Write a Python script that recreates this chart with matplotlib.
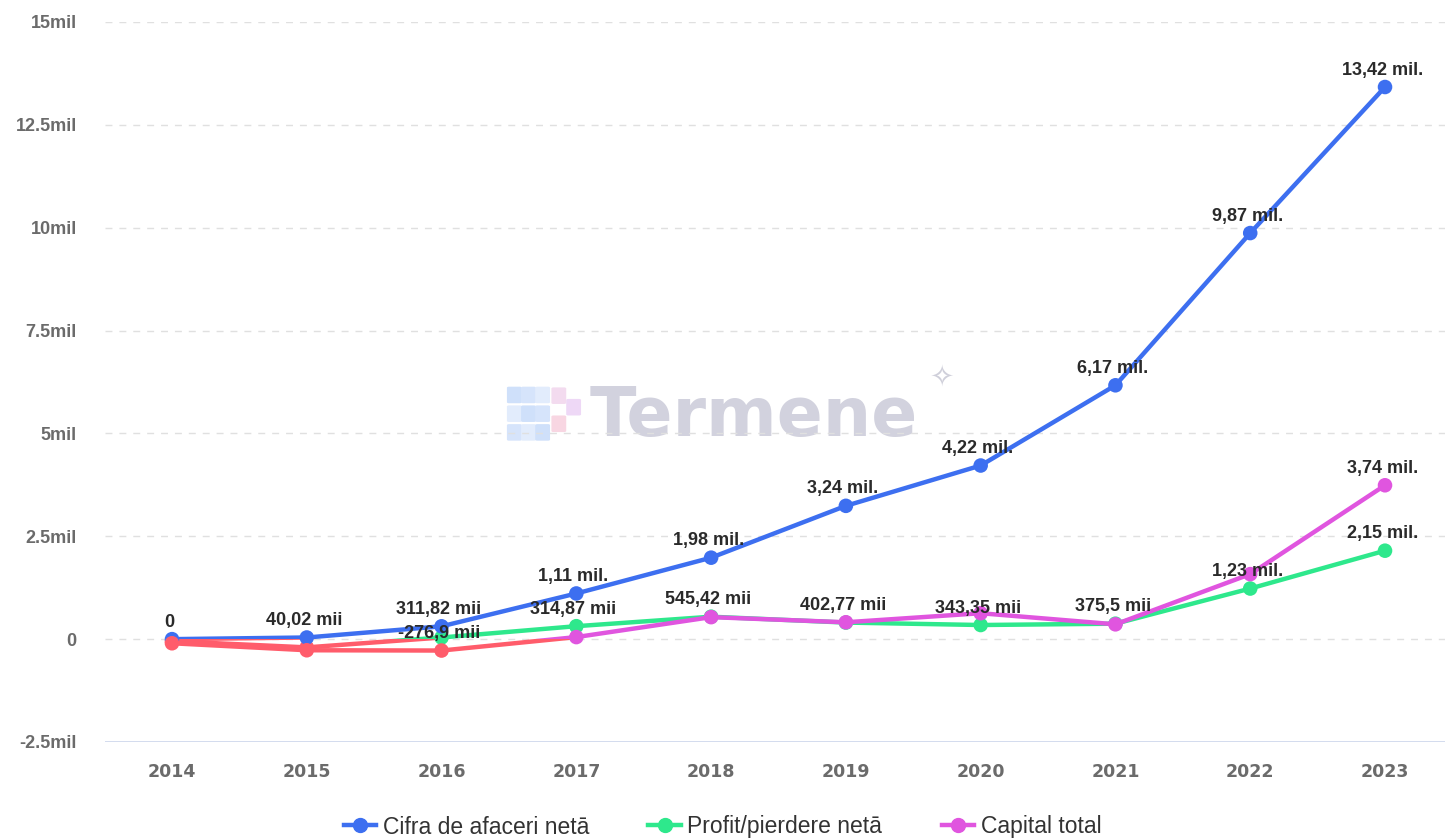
import matplotlib
matplotlib.use("Agg")
import matplotlib.pyplot as plt
from matplotlib.patches import Rectangle, FancyBboxPatch
from matplotlib.lines import Line2D

plt.rcParams['font.family'] = ['Liberation Sans', 'DejaVu Sans']

# data (values in millions)
years = ['2014', '2015', '2016', '2017', '2018', '2019', '2020', '2021', '2022', '2023']
cifra = [0, 0.04002, 0.31182, 1.11, 1.98, 3.24, 4.22, 6.17, 9.87, 13.42]
profit = [-0.05, -0.20, 0.04, 0.31487, 0.54542, 0.40277, 0.34335, 0.3755, 1.23, 2.15]
capital = [-0.10, -0.27, -0.2769, 0.05, 0.535, 0.41, 0.63, 0.36, 1.58, 3.74]

cifra_labels = ['0', '40,02 mii', '311,82 mii', '1,11 mil.', '1,98 mil.', '3,24 mil.',
                '4,22 mil.', '6,17 mil.', '9,87 mil.', '13,42 mil.']
profit_labels = [None, None, None, '314,87 mii', '545,42 mii', '402,77 mii',
                 '343,35 mii', '375,5 mii', '1,23 mil.', '2,15 mil.']
capital_labels = [None, None, '-276,9 mii', None, None, None, None, None, None, '3,74 mil.']

series_names = ['Cifra de afaceri netā', 'Profit/pierdere netā', 'Capital total']
colors = ['#3d6ff0', '#2ee88c', '#e055df']
neg_color = '#ff5c6b'

y_ticks = [-2.5, 0, 2.5, 5, 7.5, 10, 12.5, 15]
y_tick_labels = ['-2.5mil', '0', '2.5mil', '5mil', '7.5mil', '10mil', '12.5mil', '15mil']

fig = plt.figure(figsize=(14.45, 8.4), dpi=100)
ax = fig.add_axes([104.6 / 1445, 98 / 840, 1347.8 / 1445, 720 / 840])
ax.set_xlim(-0.5, 9.5)
ax.set_ylim(-2.5, 15)

x = list(range(len(years)))

# watermark
ax.text(0.482, 0.452, 'Termene', transform=ax.transAxes, fontsize=49, fontweight='bold',
        family='DejaVu Sans', color='#d2d2de', ha='center', va='center', zorder=0)
ax.text(0.621, 0.505, '\u2727', transform=ax.transAxes, fontsize=21, family='DejaVu Sans',
        color='#cfcfda', ha='center', va='center', zorder=0)
cube_cols = ['#d6e4fb', '#e2ecfc', '#cfe0fa']
for i in range(3):
    for j in range(3):
        ax.add_patch(FancyBboxPatch((0.300 + i * 0.0105, 0.42 + j * 0.026), 0.008, 0.02,
                                    boxstyle='round,pad=0.0015', transform=ax.transAxes,
                                    color=cube_cols[(i + j) % 3], zorder=0, lw=0))
pink_cols = ['#f8d6e2', '#eed8f6', '#f3dbef']
for k, (px, py) in enumerate([(0.333, 0.432), (0.344, 0.455), (0.333, 0.471)]):
    ax.add_patch(FancyBboxPatch((px, py), 0.008, 0.02, boxstyle='round,pad=0.0015',
                                transform=ax.transAxes, color=pink_cols[k], zorder=0, lw=0))

# grid
for t in y_ticks[1:]:
    ax.axhline(t, color='#e0e0e0', lw=1, ls=(0, (5, 5)), zorder=1)
ax.axhline(-2.5, color='#ccd6eb', lw=1.2, zorder=1)

ax.set_yticks(y_ticks)
ax.set_yticklabels(y_tick_labels, fontsize=13, fontweight='bold', color='#6b6b6b')
ax.set_xticks(x)
ax.set_xticklabels(years, fontsize=12.5, fontweight='bold', color='#6b6b6b',
                   family='DejaVu Sans')
ax.tick_params(axis='both', length=0)
ax.tick_params(axis='y', pad=20)
ax.tick_params(axis='x', pad=15)
for s in ax.spines.values():
    s.set_visible(False)

pos_clip = Rectangle((-1, 0), 12, 20, transform=ax.transData)
neg_clip = Rectangle((-1, -5), 12, 5, transform=ax.transData)

all_series = [cifra, profit, capital]
all_labels = [cifra_labels, profit_labels, capital_labels]
zorders = [4, 3, 5]

for vals, labs, col, z in zip(all_series, all_labels, colors, zorders):
    lp, = ax.plot(x, vals, color=col, lw=3.2, zorder=z, solid_capstyle='round')
    lp.set_clip_path(pos_clip)
    ln, = ax.plot(x, vals, color=neg_color, lw=3.2, zorder=z, solid_capstyle='round')
    ln.set_clip_path(neg_clip)
    mcols = [col if v >= 0 else neg_color for v in vals]
    ax.scatter(x, vals, s=110, c=mcols, zorder=z + 0.5, linewidths=0)
    for xi, v, t in zip(x, vals, labs):
        if t is None:
            continue
        ax.annotate(t, (xi, v), xytext=(-2, 9), textcoords='offset points',
                    ha='center', va='baseline', fontsize=13, color='#2a2a2a',
                    fontweight='bold', zorder=10)

# legend
handles = [Line2D([0], [0], color=c, lw=3.2, marker='o', markersize=10) for c in colors]
fig.legend(handles, series_names, loc='center', bbox_to_anchor=(0.5, 13 / 840),
           ncol=3, frameon=False, fontsize=16.5, handlelength=1.4,
           columnspacing=2.6, handletextpad=0.3, labelcolor='#333333')

fig.savefig('out.png', dpi=100)
